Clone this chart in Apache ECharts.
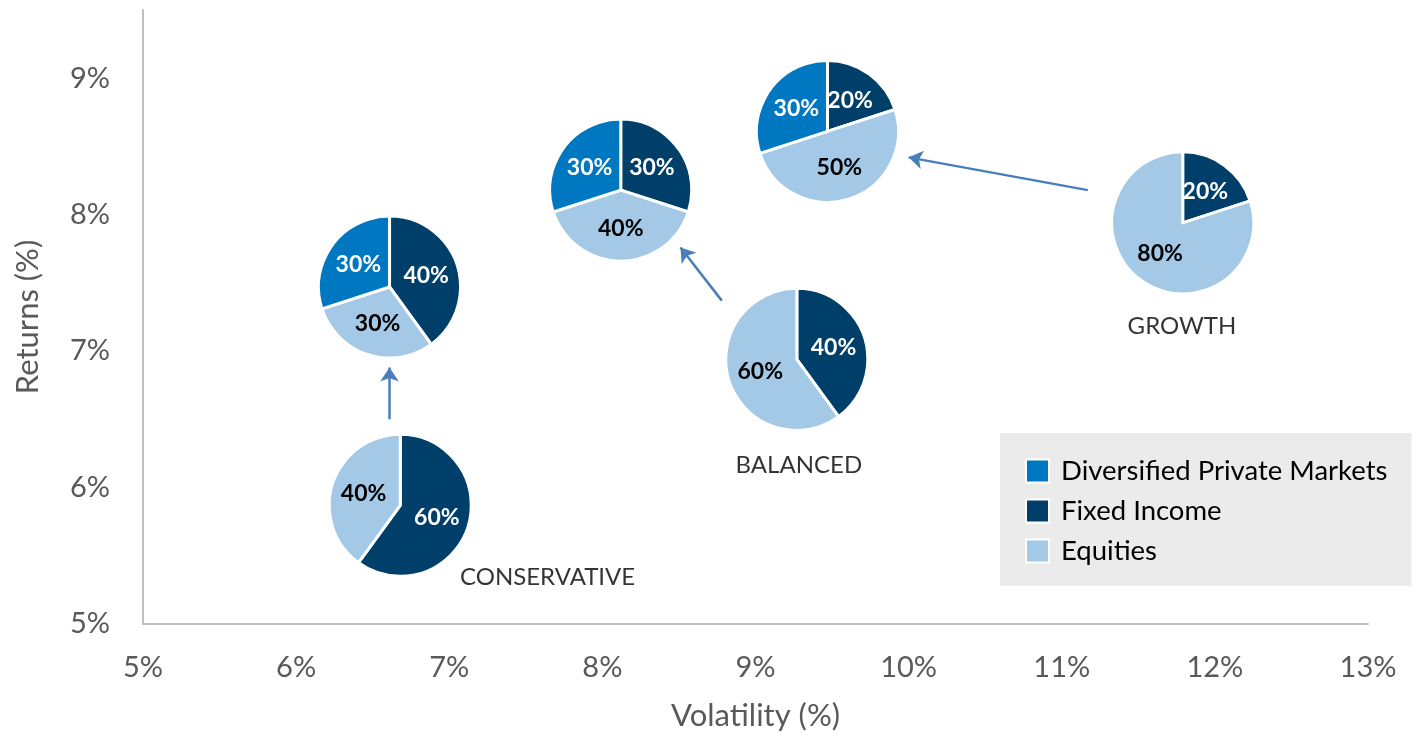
<!DOCTYPE html>
<html>
<head>
<meta charset="utf-8">
<script src="https://cdn.jsdelivr.net/npm/echarts@6/dist/echarts.min.js"></script>
<style>
html,body{margin:0;padding:0;background:#fff;}
#chart{width:1419px;height:736px;}
</style>
</head>
<body>
<div id="chart"></div>
<script>
// ---- data ----
const legendNames = ['Diversified Private Markets', 'Fixed Income', 'Equities'];
const pieVolatility = [6.68, 6.61, 9.27, 8.12, 11.79, 9.47];
const pieReturns = [5.87, 7.47, 6.94, 8.18, 7.94, 8.61];
const fixedIncome = [60, 40, 40, 30, 20, 20];
const equities = [40, 30, 60, 40, 80, 50];
const privateMarkets = [0, 30, 0, 30, 0, 30];
const portfolioLabels = ['CONSERVATIVE', 'BALANCED', 'GROWTH'];
const portfolioLabelX = [7.07, 8.87, 11.43];
const portfolioLabelY = [5.34, 6.16, 7.18];
const arrowFrom = [[6.61, 6.50], [8.78, 7.37], [11.17, 8.18]];
const arrowTo = [[6.61, 6.88], [8.51, 7.76], [10.0, 8.42]];
const xTicks = [5, 6, 7, 8, 9, 10, 11, 12, 13];
const yTicks = [5, 6, 7, 8, 9];

const FONT = 'Lato';
const colors = {
  'Diversified Private Markets': '#0078c1',
  'Fixed Income': '#003f6a',
  'Equities': '#a3c9e7'
};
const labelColors = {
  'Diversified Private Markets': '#ffffff',
  'Fixed Income': '#ffffff',
  'Equities': '#000000'
};

const chart = echarts.init(document.getElementById('chart'));

function pieSeries(i, center) {
  const items = [
    ['Fixed Income', fixedIncome[i]],
    ['Equities', equities[i]],
    ['Diversified Private Markets', privateMarkets[i]]
  ].filter(d => d[1] > 0).map(d => ({
    name: d[0], value: d[1],
    itemStyle: { color: colors[d[0]] },
    label: { color: labelColors[d[0]] }
  }));
  return {
    type: 'pie',
    id: 'pie' + i,
    center: center,
    radius: 71,
    startAngle: 90,
    clockwise: true,
    animation: false,
    silent: true,
    itemStyle: { borderColor: '#ffffff', borderWidth: 3 },
    label: {
      show: true, position: 'inside', formatter: '{c}%',
      fontFamily: FONT, fontWeight: 'bold', fontSize: 23
    },
    labelLine: { show: false },
    data: items
  };
}

const baseSeries = [
  {
    type: 'lines',
    coordinateSystem: 'cartesian2d',
    symbol: ['none', 'arrow'],
    symbolSize: 14,
    lineStyle: { color: '#4a7ebb', width: 2.5, opacity: 1 },
    animation: false,
    silent: true,
    data: arrowFrom.map((f, i) => ({ coords: [f, arrowTo[i]] }))
  },
  {
    type: 'scatter',
    symbolSize: 0,
    animation: false,
    silent: true,
    label: {
      show: true, position: 'right', distance: 0,
      formatter: p => p.value[2],
      fontFamily: FONT, fontSize: 24, color: '#000000'
    },
    data: portfolioLabels.map((t, i) => [portfolioLabelX[i], portfolioLabelY[i], t])
  }
];

const option = {
  backgroundColor: '#ffffff',
  animation: false,
  color: legendNames.map(n => colors[n]),
  grid: { left: 143, right: 51, top: 10, bottom: 111, containLabel: false },
  legend: {
    data: legendNames.map(n => ({ name: n, itemStyle: { color: colors[n] } })),
    orient: 'vertical',
    left: 1000, top: 433,
    padding: [24, 24, 21, 25],
    backgroundColor: '#ebebeb',
    itemWidth: 23, itemHeight: 23, itemGap: 12,
    icon: 'rect',
    selectedMode: false,
    textStyle: { fontFamily: FONT, fontSize: 27.5, color: '#000000', padding: [0, 0, 0, 7] }
  },
  xAxis: {
    type: 'value', min: 5, max: 13, interval: 1,
    name: 'Volatility (%)', nameLocation: 'middle', nameGap: 76,
    nameTextStyle: { fontFamily: FONT, fontSize: 31, color: '#595959' },
    axisLine: { show: true, lineStyle: { color: '#bfbfbf', width: 2 } },
    axisTick: { show: false },
    splitLine: { show: false },
    axisLabel: {
      margin: 29, fontFamily: FONT, fontSize: 29, color: '#595959',
      formatter: v => xTicks.includes(v) ? v + '%' : ''
    }
  },
  yAxis: {
    type: 'value', min: 5, max: 9.5, interval: 1,
    name: 'Returns (%)', nameLocation: 'middle', nameGap: 100,
    nameTextStyle: { fontFamily: FONT, fontSize: 31, color: '#595959' },
    axisLine: { show: true, lineStyle: { color: '#bfbfbf', width: 2 } },
    axisTick: { show: false },
    splitLine: { show: false },
    axisLabel: {
      margin: 33, fontFamily: FONT, fontSize: 29, color: '#595959',
      formatter: v => yTicks.includes(v) ? v + '%' : ''
    }
  },
  series: baseSeries.concat(pieVolatility.map((v, i) => pieSeries(i, [0, 0])))
};

chart.setOption(option);
const pies = pieVolatility.map((v, i) =>
  pieSeries(i, chart.convertToPixel({ gridIndex: 0 }, [v, pieReturns[i]])));
chart.setOption({ series: baseSeries.concat(pies) });
</script>
</body>
</html>
